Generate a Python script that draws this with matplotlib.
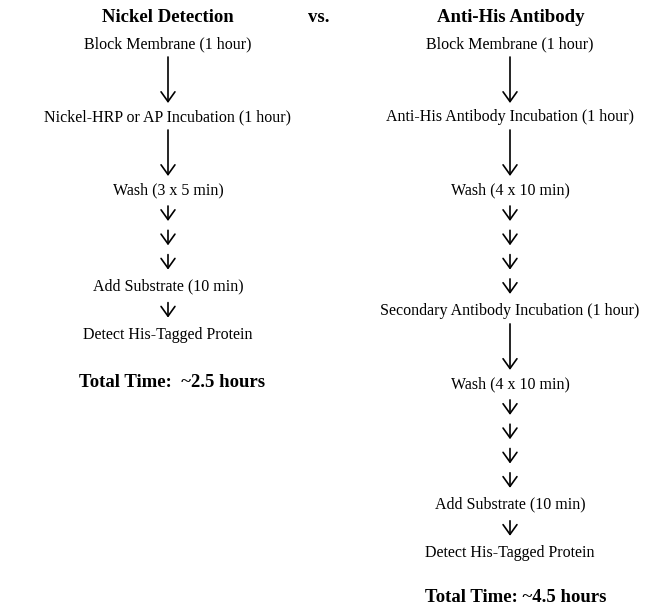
import matplotlib
matplotlib.use("Agg")
import matplotlib.pyplot as plt

# ---- data ----
header_left = "Nickel Detection"
header_mid = "vs."
header_right = "Anti-His Antibody"

left_steps = ["Block Membrane (1 hour)",
              "Nickel-HRP or AP Incubation (1 hour)",
              "Wash (3 x 5 min)",
              "Add Substrate (10 min)",
              "Detect His-Tagged Protein"]
left_arrows = [("long", 1), ("long", 1), ("short", 3), ("short", 1), (None, 0)]
left_total = "Total Time:  ~2.5 hours"

right_steps = ["Block Membrane (1 hour)",
               "Anti-His Antibody Incubation (1 hour)",
               "Wash (4 x 10 min)",
               "Secondary Antibody Incubation (1 hour)",
               "Wash (4 x 10 min)",
               "Add Substrate (10 min)",
               "Detect His-Tagged Protein"]
right_arrows = [("long", 1), ("long", 1), ("short", 4), ("long", 1),
                ("short", 4), ("short", 1), (None, 0)]
right_total = "Total Time: ~4.5 hours"

W, H = 658, 605
fig = plt.figure(figsize=(W / 100, H / 100), dpi=100)
ax = fig.add_axes([0, 0, 1, 1])
ax.set_xlim(0, W)
ax.set_ylim(H, 0)
ax.axis("off")

FONT = "Liberation Serif"
BODY = 11.5


def arrow(x, y0, y1):
    ax.annotate("", xy=(x, y1), xytext=(x, y0),
                arrowprops=dict(arrowstyle="->,head_length=0.7,head_width=0.5",
                                mutation_scale=10, lw=1.2, color="black",
                                shrinkA=0, shrinkB=0))


def column(x, steps, arrows, y_start, total, total_x, total_gap):
    y = y_start
    for label, (kind, n) in zip(steps, arrows):
        ax.text(x, y, label, ha="center", va="center", fontsize=BODY,
                family=FONT, color="black")
        if kind == "long":
            arrow(x, y + 13, y + 59)
            y += 73
        elif kind == "short":
            yy = y + 16
            for _ in range(n):
                arrow(x, yy, yy + 15)
                yy += 24.3
            y = yy - 24.3 + 15 + 17
    ax.text(total_x, y + total_gap, total, ha="center", va="center",
            fontsize=13.5, fontweight="bold", family=FONT)


ax.text(168, 18, header_left, ha="center", va="center", fontsize=13.5,
        fontweight="bold", family=FONT)
ax.text(319, 18, header_mid, ha="center", va="center", fontsize=13.5,
        fontweight="bold", family=FONT)
ax.text(511, 18, header_right, ha="center", va="center", fontsize=13.5,
        fontweight="bold", family=FONT)

column(168, left_steps, left_arrows, 44, left_total, 172, 48)
column(510, right_steps, right_arrows, 44, right_total, 516, 45)

fig.savefig("out.png", dpi=100)
